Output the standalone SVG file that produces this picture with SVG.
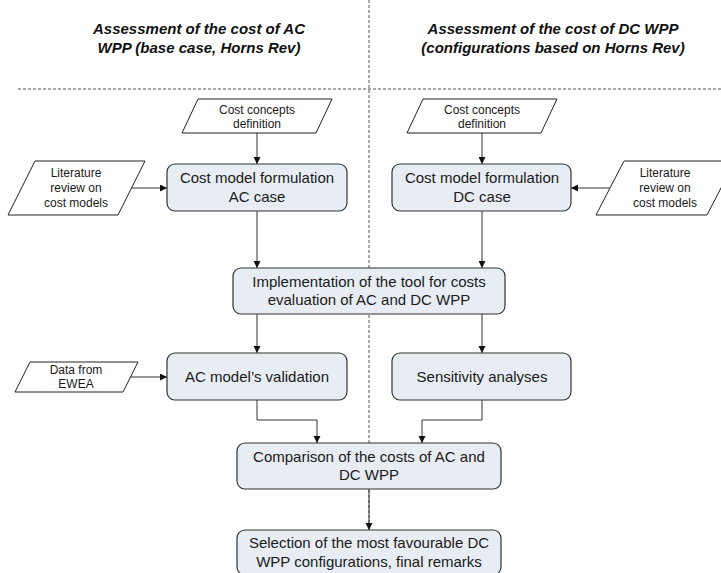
<svg xmlns="http://www.w3.org/2000/svg" width="721" height="573" viewBox="0 0 721 573">
  <style>
    .title { font-family: "Liberation Sans", Arial, sans-serif; font-size: 15px; font-weight: bold; font-style: italic; fill: #111; text-anchor: middle; }
    .box { fill: #E8EDF3; stroke: #333; stroke-width: 1.2; }
    .io { fill: #fff; stroke: #222; stroke-width: 1; }
    .bt { font-family: "Liberation Sans", Arial, sans-serif; font-size: 15px; fill: #1a1a1a; text-anchor: middle; }
    .it { font-family: "Liberation Sans", Arial, sans-serif; font-size: 12px; fill: #1a1a1a; text-anchor: middle; }
    .sep { stroke: #555; stroke-width: 1; stroke-dasharray: 3 2; fill: none; }
    .conn { stroke: #333; stroke-width: 1; fill: none; marker-end: url(#arrow); }
  </style>
  <defs>
    <marker id="arrow" markerUnits="userSpaceOnUse" markerWidth="8" markerHeight="8" refX="7" refY="3.5" orient="auto">
      <path d="M0,0 L7,3.5 L0,7 z" fill="#111"/>
    </marker>
  </defs>
  <rect width="721" height="573" fill="#fff"/>

  <!-- column separators -->
  <g id="separators">
    <line class="sep" x1="369" y1="0" x2="369" y2="573"/>
    <line class="sep" x1="18" y1="89" x2="721" y2="89"/>
  </g>

  <!-- column headings -->
  <g id="heading-ac">
    <text class="title" x="199" y="34">Assessment of the cost of AC</text>
    <text class="title" x="199" y="53">WPP (base case, Horns Rev)</text>
  </g>
  <g id="heading-dc">
    <text class="title" x="553" y="34">Assessment of the cost of DC WPP</text>
    <text class="title" x="553" y="53">(configurations based on Horns Rev)</text>
  </g>

  <!-- connectors -->
  <g id="connectors">
    <line class="conn" x1="257" y1="133" x2="257" y2="164"/>
    <line class="conn" x1="482" y1="133" x2="482" y2="164"/>
    <line class="conn" x1="131" y1="188" x2="167" y2="188"/>
    <line class="conn" x1="610" y1="188" x2="571" y2="188"/>
    <line class="conn" x1="257" y1="211" x2="257" y2="268"/>
    <line class="conn" x1="482" y1="211" x2="482" y2="268"/>
    <line class="conn" x1="257" y1="314" x2="257" y2="353"/>
    <line class="conn" x1="482" y1="314" x2="482" y2="353"/>
    <line class="conn" x1="130" y1="377" x2="167" y2="377"/>
    <polyline class="conn" points="257,400 257,420 317,420 317,443"/>
    <polyline class="conn" points="482,400 482,420 422,420 422,443"/>
    <line class="conn" x1="369" y1="489" x2="369" y2="530"/>
  </g>

  <!-- inputs -->
  <g id="cost-concepts-ac">
    <polygon class="io" points="198,99 332,99 316,133 182,133"/>
    <text class="it" x="257" y="114">Cost concepts</text>
    <text class="it" x="257" y="128">definition</text>
  </g>
  <g id="cost-concepts-dc">
    <polygon class="io" points="423,99 557,99 541,133 407,133"/>
    <text class="it" x="482" y="114">Cost concepts</text>
    <text class="it" x="482" y="128">definition</text>
  </g>
  <g id="literature-ac">
    <polygon class="io" points="35,161 145,161 118,215 8,215"/>
    <text class="it" x="76" y="177">Literature</text>
    <text class="it" x="76" y="192">review on</text>
    <text class="it" x="76" y="207">cost models</text>
  </g>
  <g id="literature-dc">
    <polygon class="io" points="624,161 735,161 707,215 596,215"/>
    <text class="it" x="665" y="177">Literature</text>
    <text class="it" x="665" y="192">review on</text>
    <text class="it" x="665" y="207">cost models</text>
  </g>
  <g id="data-ewea">
    <polygon class="io" points="30,362 138,362 123,392 15,392"/>
    <text class="it" x="76" y="374">Data from</text>
    <text class="it" x="76" y="388">EWEA</text>
  </g>

  <!-- process steps -->
  <g id="cost-model-ac">
    <rect class="box" x="167" y="164" width="180" height="47" rx="8"/>
    <text class="bt" x="257" y="183">Cost model formulation</text>
    <text class="bt" x="257" y="202">AC case</text>
  </g>
  <g id="cost-model-dc">
    <rect class="box" x="392" y="164" width="179" height="47" rx="8"/>
    <text class="bt" x="482" y="183">Cost model formulation</text>
    <text class="bt" x="482" y="202">DC case</text>
  </g>
  <g id="implementation">
    <rect class="box" x="233" y="268" width="272" height="46" rx="8"/>
    <text class="bt" x="369" y="287">Implementation of the tool for costs</text>
    <text class="bt" x="369" y="305">evaluation of AC and DC WPP</text>
  </g>
  <g id="ac-validation">
    <rect class="box" x="167" y="353" width="180" height="47" rx="8"/>
    <text class="bt" x="257" y="382">AC model’s validation</text>
  </g>
  <g id="sensitivity">
    <rect class="box" x="392" y="353" width="179" height="47" rx="8"/>
    <text class="bt" x="482" y="382">Sensitivity analyses</text>
  </g>
  <g id="comparison">
    <rect class="box" x="237" y="443" width="264" height="46" rx="8"/>
    <text class="bt" x="369" y="462">Comparison of the costs of AC and</text>
    <text class="bt" x="369" y="480">DC WPP</text>
  </g>
  <g id="selection">
    <rect class="box" x="237" y="530" width="264" height="45" rx="8"/>
    <text class="bt" x="369" y="548">Selection of the most favourable DC</text>
    <text class="bt" x="369" y="567">WPP configurations, final remarks</text>
  </g>
</svg>
